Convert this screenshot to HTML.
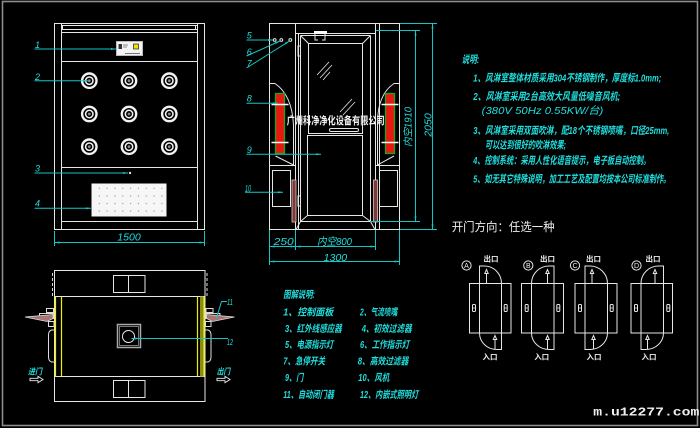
<!DOCTYPE html>
<html><head><meta charset="utf-8"><style>
html,body{margin:0;padding:0;background:#000;}
svg{display:block}
</style></head><body>
<svg width="700" height="428" viewBox="0 0 700 428" xmlns="http://www.w3.org/2000/svg">
<defs>
<marker id="ar" viewBox="0 0 10 4" refX="10" refY="2" markerWidth="5" markerHeight="2" orient="auto-start-reverse" markerUnits="userSpaceOnUse"><path d="M0,0L10,2L0,4z" fill="#14cccc"/></marker>
<g id="nz">
<circle r="7.2" fill="#000" stroke="#f2f2f2" stroke-width="2.4"/>
<circle r="3.7" fill="none" stroke="#f2f2f2" stroke-width="1.5"/>
<circle r="1.4" fill="#888"/>
</g>
<pattern id="dp" x="95.4" y="184.4" width="7.83" height="7.6" patternUnits="userSpaceOnUse"><rect x="3.3" y="3.3" width="1.2" height="1.2" fill="#9a9a9a"/></pattern>
<g id="side" fill="none" stroke="#dcdcdc" stroke-width="1">
<path d="M52.5 273V297" stroke-dasharray="3 2"/>
<rect x="46.5" y="308.5" width="7" height="4"/>
<rect x="39.5" y="313.5" width="14" height="5"/>
<rect x="48.5" y="321.5" width="5.5" height="5"/>
<path d="M25 317L53 314.5L53 318.5L47 321.5Z" fill="#a87474" stroke="#e0e0e0" stroke-width=".7"/>
<path d="M54.5 330H51.5Q48.5 331 48.5 335V357Q48.5 361 51.5 362H54.5"/>
</g>
</defs>

<!-- frame -->
<rect x="2.5" y="1.5" width="695" height="424" fill="none" stroke="#8c8c8c" stroke-width="1.6"/>

<!-- ============ FRONT VIEW ============ -->
<g fill="none" stroke="#e6e6e6" stroke-width="1">
<rect x="54.5" y="23.5" width="150" height="206"/>
<path d="M61.5 23.5V229.5M197.5 23.5V229.5M61.5 25.5H197.5M61.5 29.5H197.5M62.5 25.5V29.5M195.5 25.5V29.5M61.5 32.5H197.5M61.5 61.5H197.5M61.5 167.5H197.5M61.5 221.5H197.5"/>
</g>
<rect x="116.5" y="41.5" width="26" height="14" fill="#f4f4f4" stroke="#bbb"/>
<rect x="118.5" y="44" width="3.5" height="5" fill="#333"/>
<path d="M123 45H128M123 47H127" stroke="#666" stroke-width=".8"/>
<rect x="133.5" y="44" width="5" height="5" fill="#f0e000" stroke="#222" stroke-width=".7"/>
<path d="M125 53.5H140" stroke="#555" stroke-width=".8"/>
<use href="#nz" x="89.3" y="80.7"/><use href="#nz" x="129" y="80.7"/><use href="#nz" x="169.3" y="80.7"/>
<use href="#nz" x="89.3" y="114"/><use href="#nz" x="129" y="114"/><use href="#nz" x="169.3" y="114"/>
<use href="#nz" x="89.3" y="146.7"/><use href="#nz" x="129" y="146.7"/><use href="#nz" x="169.3" y="146.7"/>
<circle cx="130" cy="173" r="1.2" fill="#ddd"/>
<rect x="91.5" y="183.5" width="75" height="33" fill="#f6f6f6"/>
<rect x="95" y="185" width="70" height="30" fill="url(#dp)"/>

<!-- front leaders -->
<g stroke="#14c6c6" stroke-width="1" fill="none">
<path d="M34.5 49H116" marker-end="url(#ar)"/>
<path d="M34.5 80.7H88" marker-end="url(#ar)"/>
<path d="M34.5 173H128" marker-end="url(#ar)"/>
<path d="M34.5 208.3H91" marker-end="url(#ar)"/>
<path d="M54.5 231V246M204.5 231V246"/>
<path d="M54.5 242.5H204.5" marker-start="url(#ar)" marker-end="url(#ar)"/>
</g>
<g font-family="Liberation Sans, sans-serif" font-style="italic" font-size="9" fill="#20dede">
<text x="35" y="48">1</text>
<text x="35" y="80">2</text>
<text x="35" y="171.5">3</text>
<text x="35" y="206.5">4</text>
</g>
<text x="117.3" y="240.7" font-family="Liberation Sans, sans-serif" font-style="italic" font-size="10.5" fill="#20dede" textLength="23.4" lengthAdjust="spacingAndGlyphs">1500</text>

<!-- ============ SIDE ELEVATION ============ -->
<g fill="none" stroke="#e6e6e6" stroke-width="1">
<rect x="269.5" y="23.5" width="130" height="206"/>
<path d="M295.5 23.5V229.5M298.5 33.5V229.5M375.5 23.5V229.5M379.5 23.5V229.5"/>
<path d="M296 33.5H375M300.5 35.5H370.5M300.5 35.5V221.5M370.5 35.5V221.5M300.5 221.5H370.5"/>
<rect x="308.5" y="43.5" width="54" height="90"/>
<rect x="307.5" y="135.5" width="55" height="80"/>
<path d="M300.5 35.5L308.5 43.5M370.5 35.5L362.5 43.5M300.5 221.5L307.5 215.5M370.5 221.5L362.5 215.5M300.5 221.5L296 229.5M370.5 221.5L375 229.5"/>
<rect x="329.5" y="128.5" width="29" height="3" rx="1.5"/>
<path d="M315 34V40H318M325 34V40H322"/>
<rect x="298" y="46" width="2.5" height="10"/>
<rect x="298" y="196" width="2.5" height="10"/>
<path d="M317 75L329 62M320 78L332 65M323 80L330 72M340 112L352 99M343 115L355 102" stroke-width=".8"/>
<path d="M269.5 83.5H275Q292 95 293.5 125V165M275.5 156L293.5 165M269.5 165.5H295.5"/>
<path d="M399.5 83.5H394Q377 95 377.5 125V165M394 156L377.5 165M375.5 165.5H399.5"/>
<rect x="272.5" y="170.5" width="18" height="36"/>
<rect x="379.5" y="170.5" width="18" height="36"/>
<circle cx="274.7" cy="40" r="1.4"/>
<circle cx="281.3" cy="40" r="1.4"/>
<circle cx="290.3" cy="40" r="1.4"/>
</g>
<rect x="314" y="31" width="13" height="3" fill="#fff"/>
<rect x="275.5" y="93.5" width="9" height="60" fill="#e41a10" stroke="#22a022" stroke-width="1.3"/>
<rect x="385.5" y="93.5" width="9" height="60" fill="#e41a10" stroke="#22a022" stroke-width="1.3"/>
<path d="M271.5 104.5H288.5M271.5 142.5H288.5M381.5 104.5H398.5M381.5 142.5H398.5" stroke="#fff" stroke-width="1.6"/>
<rect x="292" y="180" width="4" height="42" fill="#7a3a3a" stroke="#e8c0c0" stroke-width=".8"/>
<rect x="373.5" y="180" width="4" height="42" fill="#7a3a3a" stroke="#e8c0c0" stroke-width=".8"/>
<text x="286.7" y="124" font-family="Liberation Sans, 'Noto Sans CJK SC', sans-serif" font-weight="bold" font-size="10.5" fill="#f4f4f4" textLength="98" lengthAdjust="spacingAndGlyphs">广州科净净化设备有限公司</text>

<!-- elevation leaders & dims -->
<g stroke="#14c6c6" stroke-width="1" fill="none">
<path d="M246.5 40H273" marker-end="url(#ar)"/>
<path d="M246.5 56L280 41" marker-end="url(#ar)"/>
<path d="M246.5 68L289.5 41" marker-end="url(#ar)"/>
<path d="M246.5 103.3H278" marker-end="url(#ar)"/>
<path d="M246.5 154.3H321" marker-end="url(#ar)"/>
<path d="M245 192.3H283" marker-end="url(#ar)"/>
<path d="M376 30.5H420M400 23.5H437M370 221.5H420M400 229.5H437"/>
<path d="M415.5 30.5V221.5" marker-start="url(#ar)" marker-end="url(#ar)"/>
<path d="M432.5 23.5V229.5" marker-start="url(#ar)" marker-end="url(#ar)"/>
<path d="M269.5 230V265M295.5 230V250M375.5 230V250M399.5 230V265"/>
<path d="M269.5 246.5H295.5" marker-start="url(#ar)" marker-end="url(#ar)"/>
<path d="M295.5 246.5H375.5" marker-start="url(#ar)" marker-end="url(#ar)"/>
<path d="M269.5 261.5H399.5" marker-start="url(#ar)" marker-end="url(#ar)"/>
</g>
<g font-family="Liberation Sans, 'Noto Sans CJK SC', sans-serif" font-style="italic" fill="#20dede">
<text x="246.7" y="38.5" font-size="9">5</text>
<text x="246.7" y="55" font-size="9">6</text>
<text x="246.7" y="66.5" font-size="9">7</text>
<text x="246.7" y="101.7" font-size="9">8</text>
<text x="246.7" y="153" font-size="9">9</text>
<text x="245" y="191.5" font-size="9" textLength="6" lengthAdjust="spacingAndGlyphs">10</text>
<text transform="translate(411.7,147) rotate(-90)" font-size="10" textLength="40" lengthAdjust="spacingAndGlyphs">内空1910</text>
<text transform="translate(431.7,136.7) rotate(-90)" font-size="10" textLength="23.4" lengthAdjust="spacingAndGlyphs">2050</text>
<text x="273.7" y="245" font-size="10.5" textLength="20" lengthAdjust="spacingAndGlyphs">250</text>
<text x="317" y="245" font-size="10.5" textLength="35" lengthAdjust="spacingAndGlyphs">内空800</text>
<text x="323.7" y="261" font-size="10.5" textLength="23.4" lengthAdjust="spacingAndGlyphs">1300</text>
</g>

<!-- ============ PLAN VIEW ============ -->
<g fill="none" stroke="#e6e6e6" stroke-width="1">
<rect x="54.5" y="270.5" width="150.5" height="131"/>
<path d="M54.5 296.5H205M54.5 376.5H205"/>
<rect x="113.5" y="275.5" width="31.5" height="17"/>
<path d="M128.5 275.5V292.5"/>
<rect x="113.5" y="380.5" width="31.5" height="17"/>
<path d="M128.5 380.5V397.5"/>
<circle cx="128.5" cy="336.5" r="6"/>
</g>
<rect x="200" y="296.5" width="4" height="80" fill="#8c8c10"/>
<path d="M55.5 296.5V376.5M61.5 296.5V376.5M197.5 296.5V376.5M204 296.5V376.5" stroke="#f0f000" stroke-width="1.2"/>
<rect x="117.5" y="324.5" width="23" height="23" fill="none" stroke="#aaa" stroke-width="1.5"/>
<rect x="119.5" y="326.5" width="19" height="19" fill="none" stroke="#777" stroke-width="1"/>
<use href="#side"/>
<use href="#side" transform="translate(259.5 0) scale(-1 1)"/>
<g stroke="#14c6c6" stroke-width="1" fill="none">
<path d="M131.5 338.5H228" marker-start="url(#ar)"/>
<path d="M216.5 318L221.5 301.5H227" marker-start="url(#ar)"/>
</g>
<g font-family="Liberation Sans, 'Noto Sans CJK SC', sans-serif" font-style="italic" fill="#20dede" font-size="8">
<text x="227" y="305" textLength="6" lengthAdjust="spacingAndGlyphs">11</text>
<text x="227" y="345" textLength="6" lengthAdjust="spacingAndGlyphs">12</text>
<text x="28" y="374.5" font-size="8.5" font-weight="bold" textLength="14" lengthAdjust="spacingAndGlyphs">进门</text>
<text x="216.7" y="374.5" font-size="8.5" font-weight="bold" textLength="13.5" lengthAdjust="spacingAndGlyphs">出门</text>
</g>
<path d="M30 378.3H38V376.3L43 379.5L38 382.7V380.7H30Z" fill="none" stroke="#eee" stroke-width=".9"/>
<path d="M217 378.3H225V376.3L230 379.5L225 382.7V380.7H217Z" fill="none" stroke="#eee" stroke-width=".9"/>

<!-- ============ LEGEND ============ -->
<g font-family="Liberation Sans, 'Noto Sans CJK SC', sans-serif" font-style="italic" font-weight="bold" fill="#20dede" font-size="10">
<text x="283.3" y="297.8" textLength="31.7" lengthAdjust="spacingAndGlyphs">图解说明:</text>
<text x="283.3" y="315.5" textLength="50" lengthAdjust="spacingAndGlyphs">1、控制面板</text>
<text x="360" y="315.5" textLength="37.3" lengthAdjust="spacingAndGlyphs">2、气流喷嘴</text>
<text x="285" y="332.1" textLength="56.7" lengthAdjust="spacingAndGlyphs">3、红外线感应器</text>
<text x="361.7" y="332.1" textLength="50" lengthAdjust="spacingAndGlyphs">4、初效过滤器</text>
<text x="285" y="347.8" textLength="48.3" lengthAdjust="spacingAndGlyphs">5、电源指示灯</text>
<text x="360" y="347.8" textLength="49.3" lengthAdjust="spacingAndGlyphs">6、工作指示灯</text>
<text x="283.3" y="364.5" textLength="41.7" lengthAdjust="spacingAndGlyphs">7、急停开关</text>
<text x="357.7" y="364.5" textLength="50.7" lengthAdjust="spacingAndGlyphs">8、高效过滤器</text>
<text x="285" y="381.1" textLength="18.3" lengthAdjust="spacingAndGlyphs">9、门</text>
<text x="358.3" y="381.1" textLength="31" lengthAdjust="spacingAndGlyphs">10、风机</text>
<text x="283.3" y="398.1" textLength="50.7" lengthAdjust="spacingAndGlyphs">11、自动闭门器</text>
<text x="360" y="398.1" textLength="58.3" lengthAdjust="spacingAndGlyphs">12、内嵌式照明灯</text>
</g>

<!-- ============ NOTES ============ -->
<g font-family="Liberation Sans, 'Noto Sans CJK SC', sans-serif" font-style="italic" font-weight="bold" fill="#20dede" font-size="10.5">
<text x="461.7" y="63" textLength="17.6" lengthAdjust="spacingAndGlyphs">说明:</text>
<text x="473.3" y="81.5" textLength="188" lengthAdjust="spacingAndGlyphs">1、风淋室整体材质采用304不锈钢制作，厚度标1.0mm;</text>
<text x="473.3" y="100" textLength="147" lengthAdjust="spacingAndGlyphs">2、风淋室采用2台高效大风量低噪音风机;</text>
<text x="481.7" y="114" font-weight="normal" textLength="121.6" lengthAdjust="spacingAndGlyphs">(380V  50Hz  0.55KW/台)</text>
<text x="473.3" y="134" textLength="196" lengthAdjust="spacingAndGlyphs">3、风淋室采用双面吹淋，配18个不锈钢喷嘴，口径25mm,</text>
<text x="485" y="148.3" textLength="81" lengthAdjust="spacingAndGlyphs">可以达到很好的吹淋效果;</text>
<text x="473.3" y="164" textLength="177" lengthAdjust="spacingAndGlyphs">4、控制系统：采用人性化语音提示，电子板自动控制。</text>
<text x="473.3" y="182.3" textLength="197" lengthAdjust="spacingAndGlyphs">5、如无其它特殊说明，加工工艺及配置均按本公司标准制作。</text>
</g>

<!-- ============ DOOR OPTIONS ============ -->
<text x="451.7" y="231" font-family="Liberation Sans, 'Noto Sans CJK SC', sans-serif" font-size="12" fill="#eeeeee" textLength="103" lengthAdjust="spacingAndGlyphs">开门方向：任选一种</text>
<g fill="none" stroke="#e6e6e6" stroke-width="1">
<!-- A -->
<rect x="469.5" y="283.5" width="41.5" height="49.5"/>
<path d="M479.5 283.5V333M501.5 283.5V333"/>
<path d="M479.5 283.5V266H484.5A17 17.5 0 0 1 501.5 283.5"/>
<path d="M501.5 333V349.5H496.5A17 16.5 0 0 1 479.5 333"/>
<path d="M486.5 283V273M495 349V339"/>
<!-- B -->
<rect x="521.5" y="283.5" width="42" height="49.5"/>
<path d="M531.5 283.5V333M554 283.5V333"/>
<path d="M554 283.5V266H549A17.5 17.5 0 0 0 531.5 283.5"/>
<path d="M554 333V349.5H549A17.5 16.5 0 0 1 531.5 333"/>
<path d="M547.5 283V273M547.5 349V339"/>
<!-- C -->
<rect x="575" y="283.5" width="42" height="49.5"/>
<path d="M585 283.5V333M607.5 283.5V333"/>
<path d="M585 283.5V266H590A17.5 17.5 0 0 1 607.5 283.5"/>
<path d="M585 333V349.5H590A17.5 16.5 0 0 0 607.5 333"/>
<path d="M592 283V273M593.5 349V339"/>
<!-- D -->
<rect x="631" y="283.5" width="41.5" height="49.5"/>
<path d="M641 283.5V333M663.5 283.5V333"/>
<path d="M663.5 283.5V266H658.5A17.5 17.5 0 0 0 641 283.5"/>
<path d="M641 333V349.5H646A17.5 16.5 0 0 0 663.5 333"/>
<path d="M655 283V273M647.5 349V339"/>
<!-- arrowheads -->
<path d="M484.8 273.5L486.5 269.5L488.2 273.5Z M493.3 339.5L495 335.5L496.7 339.5Z M545.8 273.5L547.5 269.5L549.2 273.5Z M545.8 339.5L547.5 335.5L549.2 339.5Z M590.3 273.5L592 269.5L593.7 273.5Z M591.8 339.5L593.5 335.5L595.2 339.5Z M653.3 273.5L655 269.5L656.7 273.5Z M645.8 339.5L647.5 335.5L649.2 339.5Z"/>
<!-- lamps -->
<rect x="472.5" y="304.5" width="3" height="7" rx="1"/><rect x="504.2" y="304.5" width="3" height="7" rx="1"/>
<rect x="525.2" y="304.5" width="3" height="7" rx="1"/><rect x="556.8" y="304.5" width="3" height="7" rx="1"/>
<rect x="578.5" y="304.5" width="3" height="7" rx="1"/><rect x="610.2" y="304.5" width="3" height="7" rx="1"/>
<rect x="634.5" y="304.5" width="3" height="7" rx="1"/><rect x="666.8" y="304.5" width="3" height="7" rx="1"/>
<path d="M472.5 308H475.5M504.2 308H507.2M525.2 308H528.2M556.8 308H559.8M578.5 308H581.5M610.2 308H613.2M634.5 308H637.5M666.8 308H669.8" stroke-width=".7"/>
<circle cx="466.5" cy="265.5" r="4.6"/>
<circle cx="528.3" cy="265.5" r="4.6"/>
<circle cx="575" cy="265.5" r="4.6"/>
<circle cx="636.5" cy="265.5" r="4.6"/>
</g>
<g font-family="Liberation Sans, 'Noto Sans CJK SC', sans-serif" fill="#eeeeee" font-size="7" text-anchor="middle">
<text x="466.5" y="268">A</text>
<text x="528.3" y="268">B</text>
<text x="575" y="268">C</text>
<text x="636.5" y="268">D</text>
<text x="491" y="261.7" font-size="7.5" font-weight="bold">出口</text>
<text x="547.5" y="261.7" font-size="7.5" font-weight="bold">出口</text>
<text x="593.5" y="261.7" font-size="7.5" font-weight="bold">出口</text>
<text x="653" y="261.7" font-size="7.5" font-weight="bold">出口</text>
<text x="490" y="359.5" font-size="7.5" font-weight="bold">入口</text>
<text x="541.7" y="359.5" font-size="7.5" font-weight="bold">入口</text>
<text x="594" y="359.5" font-size="7.5" font-weight="bold">入口</text>
<text x="649" y="359.5" font-size="7.5" font-weight="bold">入口</text>
</g>

<!-- watermark -->
<text x="593.3" y="415.7" font-family="Liberation Mono, monospace" font-weight="bold" font-size="12" fill="#f0f0f0" textLength="106" lengthAdjust="spacingAndGlyphs">m.u12277.com</text>
</svg>
</body></html>
